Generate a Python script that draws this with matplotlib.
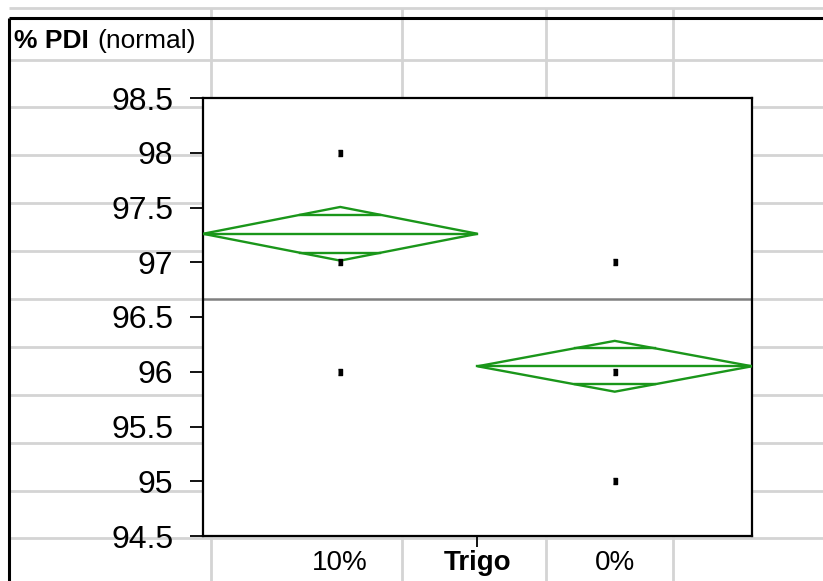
import numpy as np
import matplotlib.pyplot as plt
from matplotlib.patches import Polygon

plt.rcParams['font.family'] = ['Liberation Sans', 'DejaVu Sans']

# dados
grupos = ['10%', '0%']
pontos = [[98, 97, 96], [97, 96, 95]]
medias = [97.26, 96.05]
ic_meio = [0.245, 0.232]  # meia-largura do intervalo de confiança
media_geral = 96.66
y_ticks = [94.5, 95, 95.5, 96, 96.5, 97, 97.5, 98, 98.5]
y_tick_labels = ['94.5', '95', '95.5', '96', '96.5', '97', '97.5', '98', '98.5']

verde = '#1a961a'
W, H = 823, 581

fig = plt.figure(figsize=(W / 100, H / 100), dpi=100)

# fundo tipo planilha (coordenadas em pixels)
bg = fig.add_axes([0, 0, 1, 1], zorder=0)
bg.set_xlim(0, W)
bg.set_ylim(H, 0)
bg.axis('off')
linhas_h = [8, 60, 107, 155, 203, 251, 299, 347, 395, 443, 491, 538]
linhas_v = [211, 402, 546, 673]
for y in linhas_h:
    bg.plot([9, W], [y, y], color='#d4d4d4', lw=2, solid_capstyle='butt')
for x in linhas_v:
    bg.plot([x, x], [8, H], color='#d4d4d4', lw=2, solid_capstyle='butt')
bg.plot([9, W], [18, 18], color='black', lw=2.2, solid_capstyle='butt')
bg.plot([9, 9], [18, H], color='black', lw=2.2, solid_capstyle='butt')

bg.text(14, 48, '% PDI', fontsize=19, fontweight='bold', va='baseline', ha='left')
bg.text(97, 48, '(normal)', fontsize=19, va='baseline', ha='left')

# gráfico principal
ax = fig.add_axes([203 / W, 45 / H, 549 / W, 438 / H], zorder=2)
ax.set_facecolor('white')
ax.set_xlim(0, len(grupos))
ax.set_ylim(94.5, 98.5)

ax.axhline(media_geral, color='#808080', lw=1.8, zorder=1)

for i, (pts, m, ci) in enumerate(zip(pontos, medias, ic_meio)):
    esq, dir, meio = i, i + 1, i + 0.5
    diamante = Polygon([(esq, m), (meio, m + ci), (dir, m), (meio, m - ci)],
                       closed=True, fill=False, edgecolor=verde, lw=1.7, zorder=3)
    ax.add_patch(diamante)
    ax.plot([esq, dir], [m, m], color=verde, lw=1.7, zorder=3)
    # marcas de sobreposição
    d = ci / np.sqrt(2)
    hw = (1 - 1 / np.sqrt(2)) * 0.5
    for s in (1, -1):
        ax.plot([meio - hw, meio + hw], [m + s * d, m + s * d], color=verde, lw=1.7, zorder=3)
    ax.plot([meio] * len(pts), pts, linestyle='none', color='black',
            marker=[(-0.66, -1), (0.66, -1), (0.66, 1), (-0.66, 1)], markersize=4, zorder=4)

for sp in ax.spines.values():
    sp.set_linewidth(1.6)
    sp.set_color('black')

ax.set_yticks(y_ticks, y_tick_labels)
ax.tick_params(axis='y', length=9.4, width=1.3, pad=12, labelsize=23)

ax.set_xticks([0.5, 1, 1.5], [grupos[0], 'Trigo', grupos[1]])
ax.tick_params(axis='x', length=8, width=1.3, pad=2, labelsize=20)
ticks_x = ax.xaxis.get_major_ticks()
ticks_x[0].tick1line.set_visible(False)
ticks_x[2].tick1line.set_visible(False)
ax.get_xticklabels()[1].set_fontweight('bold')

fig.savefig('out.png', dpi=100)
